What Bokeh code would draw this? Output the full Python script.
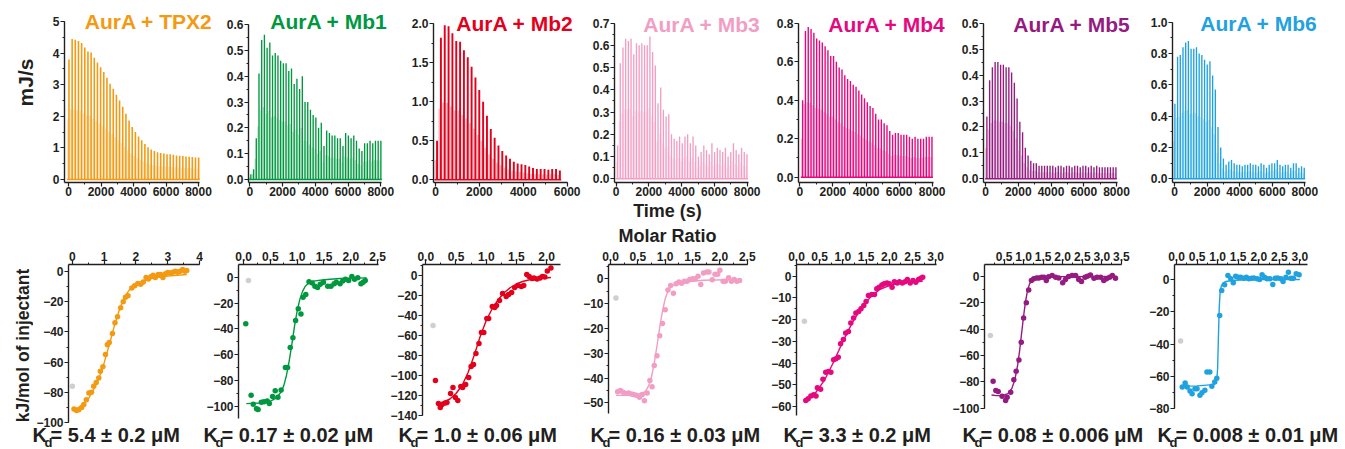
import numpy as np
from bokeh.plotting import figure
from bokeh.layouts import row, column
from bokeh.models import Label, Range1d, SingleIntervalTicker, FixedTicker, NumeralTickFormatter, GridBox
from bokeh.embed import file_html
from bokeh.resources import INLINE

FONT = "Liberation Sans"
INK = "#231f20"

# ---------------- data ----------------
names = ["AurA + TPX2", "AurA + Mb1", "AurA + Mb2", "AurA + Mb3", "AurA + Mb4", "AurA + Mb5", "AurA + Mb6"]
colors = ["#F39A12", "#00983F", "#E3001B", "#F29EC4", "#E5097F", "#951B81", "#1FA2DF"]
first_point_color = "#CFCFCF"

# raw ITC traces: peak heights (mJ/s) of successive injections
tpx2_peak = [3.8, 4.45, 4.42, 4.38, 4.32, 4.18, 4.05, 4.02, 3.85, 3.7, 3.55, 3.4, 3.22, 3.03, 2.87, 2.68,
             2.5, 2.3, 2.08, 1.87, 1.66, 1.5, 1.36, 1.24, 1.12, 1.02, 0.95, 0.9, 0.86, 0.84, 0.82, 0.8,
             0.8, 0.78, 0.76, 0.75, 0.74, 0.73, 0.72, 0.71, 0.7, 0.7]
mb1_peak = [0.02, 0.04, 0.16, 0.41, 0.54, 0.56, 0.51, 0.53, 0.48, 0.49, 0.48, 0.46, 0.45, 0.45, 0.42, 0.43,
            0.37, 0.39, 0.35, 0.40, 0.30, 0.30, 0.27, 0.25, 0.24, 0.20, 0.22, 0.13, 0.19, 0.18, 0.17, 0.17,
            0.16, 0.16, 0.13, 0.18, 0.17, 0.16, 0.17, 0.15, 0.12, 0.11, 0.14, 0.14, 0.15, 0.14, 0.15, 0.15, 0.15]
mb2_peak = [0.5, 1.82, 1.98, 1.97, 1.88, 1.78, 1.77, 1.66, 1.57, 1.45, 1.31, 1.15, 1.0, 0.82, 0.65, 0.54,
            0.44, 0.37, 0.31, 0.27, 0.23, 0.21, 0.2, 0.19, 0.17, 0.15, 0.14, 0.14, 0.14, 0.13, 0.14, 0.14, 0.12]
mb3_peak = [0.15, 0.52, 0.59, 0.63, 0.62, 0.63, 0.56, 0.61, 0.60, 0.61, 0.60, 0.60, 0.64, 0.57, 0.51, 0.34,
            0.41, 0.31, 0.28, 0.29, 0.20, 0.18, 0.17, 0.19, 0.16, 0.19, 0.20, 0.16, 0.19, 0.15, 0.10, 0.12,
            0.15, 0.13, 0.11, 0.16, 0.12, 0.14, 0.13, 0.12, 0.14, 0.10, 0.12, 0.16, 0.13, 0.11, 0.14, 0.12, 0.11]
mb4_peak = [0.40, 0.76, 0.78, 0.77, 0.75, 0.72, 0.71, 0.70, 0.68, 0.66, 0.63, 0.63, 0.60, 0.57, 0.56, 0.53,
            0.51, 0.50, 0.48, 0.47, 0.45, 0.43, 0.41, 0.39, 0.37, 0.36, 0.33, 0.30, 0.30, 0.28, 0.27, 0.24,
            0.22, 0.23, 0.23, 0.22, 0.22, 0.22, 0.21, 0.20, 0.21, 0.20, 0.20, 0.20, 0.21, 0.21, 0.21]
mb5_peak = [0.24, 0.38, 0.43, 0.45, 0.45, 0.44, 0.44, 0.43, 0.43, 0.41, 0.37, 0.31, 0.22, 0.18, 0.12, 0.09,
            0.07, 0.06, 0.06, 0.05, 0.05, 0.05, 0.05, 0.05, 0.05, 0.045, 0.05, 0.05, 0.045, 0.05, 0.05, 0.045,
            0.05, 0.05, 0.045, 0.05, 0.05, 0.045, 0.05, 0.045, 0.05, 0.045, 0.045, 0.045, 0.045, 0.045, 0.045, 0.045]
mb6_peak = [0.48, 0.78, 0.79, 0.84, 0.87, 0.88, 0.83, 0.83, 0.84, 0.80, 0.79, 0.76, 0.73, 0.75, 0.66, 0.57,
            0.33, 0.20, 0.13, 0.09, 0.11, 0.12, 0.10, 0.09, 0.09, 0.08, 0.09, 0.09, 0.10, 0.09, 0.09, 0.08,
            0.10, 0.09, 0.07, 0.09, 0.10, 0.10, 0.12, 0.09, 0.08, 0.09, 0.09, 0.07, 0.10, 0.10, 0.07, 0.08, 0.07]
peak_series = [tpx2_peak, mb1_peak, mb2_peak, mb3_peak, mb4_peak, mb5_peak, mb6_peak]
first_injection_time = [0, 40, 45, 60, 145, 60, 0]          # s
last_injection_time = [7980, 7980, 5640, 7960, 7960, 7940, 7940]  # s

# integrated isotherms: molar ratio vs kJ/mol of injectant
tpx2_ratio = [0.05, 0.13, 0.2, 0.29, 0.36, 0.44, 0.52, 0.6, 0.67, 0.75, 0.83, 0.88, 0.96, 1.04, 1.1, 1.16,
              1.26, 1.34, 1.42, 1.52, 1.6, 1.67, 1.75, 1.87, 1.96, 2.06, 2.15, 2.23, 2.32, 2.39, 2.47, 2.54,
              2.61, 2.7, 2.78, 2.85, 2.93, 3.0, 3.08, 3.16, 3.24, 3.31, 3.39, 3.47, 3.54, 3.6]
tpx2_kj = [-91, -92, -91.5, -90, -88, -85, -80.5, -80, -76, -73.5, -70.5, -66, -63, -55, -48.5, -47,
           -41, -34, -30, -24, -20, -17, -16, -11, -9.5, -8, -8.5, -7, -4, -5, -3.5, -2.5,
           -4, -2, -2, -4, -1.5, -0.7, -1, -0.5, 0.2, -0.5, 0.2, 1.3, 0.2, 0.7]
mb1_ratio = [0.04, 0.14, 0.18, 0.24, 0.27, 0.33, 0.38, 0.44, 0.48, 0.54, 0.59, 0.64, 0.7, 0.78, 0.82, 0.87,
             0.92, 0.97, 1.02, 1.07, 1.11, 1.16, 1.22, 1.28, 1.33, 1.38, 1.43, 1.49, 1.57, 1.63, 1.69, 1.73,
             1.8, 1.85, 1.9, 1.96, 2.02, 2.07, 2.13, 2.19, 2.23, 2.27]
mb1_kj = [-36, -91.5, -98.5, -102, -102.5, -97, -96.5, -96, -98, -92.5, -88, -93, -87.5, -70, -70, -54.5,
          -47, -33.5, -24.5, -28.5, -15.5, -13.5, -3.5, -4.5, -7, -8, -5.5, -4, -7, -7, -5, -4,
          -5, -3, -1.5, -2.5, 0.5, -1.5, -0.5, -5, -4, -2.5]
mb2_ratio = [0.16, 0.21, 0.24, 0.27, 0.32, 0.35, 0.41, 0.45, 0.49, 0.53, 0.58, 0.61, 0.66, 0.71, 0.75, 0.79,
             0.83, 0.88, 0.92, 0.96, 1.01, 1.04, 1.1, 1.14, 1.17, 1.22, 1.27, 1.33, 1.37, 1.42, 1.47, 1.52,
             1.58, 1.62, 1.67, 1.71, 1.76, 1.79, 1.84, 1.89, 1.93, 1.97, 2.01, 2.07]
mb2_kj = [-105, -128, -132, -129, -127.5, -127, -118, -112, -122, -125, -111, -112, -109, -102, -91, -89,
          -78, -68, -57, -57, -43, -43, -31, -32, -30, -25, -18, -21, -19, -17, -12, -10,
          -11, -10, 1, -1, -3, -2.5, -3.5, -2.5, -1, -1.5, 4.5, 7.5]
mb3_ratio = [0.13, 0.18, 0.23, 0.28, 0.33, 0.38, 0.42, 0.47, 0.53, 0.58, 0.62, 0.67, 0.72, 0.76, 0.8, 0.85,
             0.9, 0.95, 1.0, 1.05, 1.1, 1.15, 1.2, 1.25, 1.3, 1.35, 1.4, 1.45, 1.5, 1.55, 1.6, 1.65,
             1.7, 1.76, 1.8, 1.86, 1.91, 1.96, 2.0, 2.06, 2.1, 2.16, 2.21, 2.26, 2.31, 2.36]
mb3_kj = [-45.5, -45, -45.7, -46.3, -46, -46.5, -46.7, -47, -47.8, -46.7, -49.2, -46, -41, -43.5, -35, -31,
          -23, -18, -12.5, -4.5, -2.7, -5.8, -2, -1.3, -1.8, -1, -1, -0.3, 0, 0, 1, -2.3,
          2.3, 2.7, 2.7, -0.4, 1.8, 1.8, 3.4, -1, -1, 0.4, -1, -0.3, -1, -0.7]
mb4_ratio = [0.2, 0.25, 0.31, 0.37, 0.42, 0.45, 0.52, 0.57, 0.63, 0.69, 0.74, 0.8, 0.85, 0.9, 0.95, 1.01,
             1.06, 1.12, 1.17, 1.23, 1.28, 1.34, 1.39, 1.45, 1.5, 1.55, 1.62, 1.68, 1.73, 1.78, 1.84, 1.89,
             1.95, 2.0, 2.06, 2.11, 2.17, 2.22, 2.28, 2.34, 2.39, 2.45, 2.51, 2.57, 2.63, 2.68, 2.72]
mb4_kj = [-57.2, -56.4, -55.2, -54.6, -55.2, -51.4, -52.1, -47.5, -44.2, -43.9, -44.2, -38.5, -38, -37.3, -31.1, -29.1,
          -26.1, -25.5, -21.5, -19.2, -16.9, -16.3, -15, -13.5, -11.7, -8.9, -8.4, -8.4, -5.8, -5.1, -4, -3.5,
          -3.1, -3.5, -5.1, -2.5, -3.1, -2.5, -3.1, -2.5, -1.5, -3.1, -2, -2.8, -1.5, -0.9, -0.5]
mb5_ratio = [0.22, 0.29, 0.35, 0.45, 0.54, 0.58, 0.67, 0.75, 0.81, 0.88, 0.94, 1.0, 1.07, 1.13, 1.2, 1.26,
             1.33, 1.39, 1.46, 1.52, 1.58, 1.64, 1.73, 1.82, 1.9, 2.0, 2.07, 2.15, 2.24, 2.33, 2.41, 2.48,
             2.57, 2.63, 2.71, 2.8, 2.88, 2.97, 3.05, 3.12, 3.2, 3.27, 3.35]
mb5_kj = [-79.5, -86.6, -87.4, -90.9, -94.2, -91.7, -87.9, -78.5, -72, -63.4, -50, -31.6, -20.2, -10.4, -3.3, -2,
          -1.3, -1.3, -0.8, -0.8, -3.3, -0.5, 0.5, -0.8, -1.3, -5, -2.5, -0.3, 0.5, 0.5, -2.5, -4,
          -0.8, 0, 1, -1.5, -0.8, -0.8, -3.3, -2, -0.8, 0.5, -1.5]
mb6_ratio = [0.14, 0.21, 0.26, 0.33, 0.38, 0.45, 0.5, 0.57, 0.62, 0.69, 0.74, 0.81, 0.86, 0.93, 0.98, 1.05,
             1.1, 1.17, 1.25, 1.32, 1.38, 1.44, 1.5, 1.56, 1.64, 1.7, 1.76, 1.82, 1.88, 1.96, 2.02, 2.08,
             2.14, 2.2, 2.27, 2.34, 2.4, 2.46, 2.54, 2.59, 2.66, 2.72, 2.78, 2.84, 2.91, 2.98]
mb6_kj = [-66.5, -64, -66.5, -69, -70.6, -67.5, -67.5, -71.6, -70, -68.5, -57.2, -57.2, -66, -63.4, -61, -22.2,
          -6.8, -3.3, 2.5, 0.4, -2, 2, 1.4, 1.4, 0.8, 1.4, 0.4, 0.8, 1, 0.4, 0, 2.9,
          1.4, 0.4, 0.4, -3.1, 0.8, 1, 0.4, -1.2, 1.4, 4.5, 0.8, 0.8, 3.5, 2.9]
ratio_series = [tpx2_ratio, mb1_ratio, mb2_ratio, mb3_ratio, mb4_ratio, mb5_ratio, mb6_ratio]
kj_series = [tpx2_kj, mb1_kj, mb2_kj, mb3_kj, mb4_kj, mb5_kj, mb6_kj]

first_inj_ratio = [0.0, 0.09, 0.12, 0.10, 0.17, 0.15, 0.10]
first_inj_kj = [-76, -2.5, -50, -7.7, -20.7, -45, -38]

# fitted curves
tpx2_fit_x = [0.05, 0.3, 0.5, 0.7, 0.9, 1.0, 1.1, 1.2, 1.3, 1.4, 1.5, 1.6, 1.7, 1.8, 2.0, 2.2, 2.5, 3.0, 3.6]
tpx2_fit_y = [-91.5, -89, -84.5, -77, -67, -60.5, -53, -45.5, -37.5, -30.5, -24, -19, -15, -12, -8.5, -6.5, -4.5, -3, -2]
mb1_fit_x = [0.05, 0.3, 0.5, 0.6, 0.7, 0.75, 0.8, 0.85, 0.9, 0.95, 1.0, 1.05, 1.1, 1.15, 1.2, 1.3, 1.5, 1.8, 2.3]
mb1_fit_y = [-98, -97.5, -96, -94, -89, -84, -76, -65, -52, -38, -26, -17, -11, -7, -5, -3, -2, -1, -0.5]
mb2_fit_x = [0.18, 0.3, 0.4, 0.5, 0.6, 0.7, 0.8, 0.9, 1.0, 1.1, 1.2, 1.3, 1.4, 1.5, 1.6, 1.7, 1.8, 2.07]
mb2_fit_y = [-128, -126.5, -123.5, -118, -110, -97, -80, -61, -45, -33, -24, -17, -12, -8.5, -6, -4.5, -3.5, -2]
mb3_fit_x = [0.1, 0.3, 0.5, 0.6, 0.65, 0.7, 0.75, 0.8, 0.85, 0.9, 0.95, 1.0, 1.05, 1.1, 1.2, 1.4, 1.7, 2.37]
mb3_fit_y = [-47, -47, -46.5, -46, -45, -43, -39.5, -34, -27, -19.5, -13, -8, -5, -3.3, -2, -1.2, -0.6, -0.3]
mb4_fit_x = [0.2, 0.4, 0.6, 0.8, 1.0, 1.2, 1.4, 1.6, 1.8, 2.0, 2.2, 2.4, 2.72]
mb4_fit_y = [-57.5, -54, -48, -39.5, -30, -21.5, -14.5, -9.5, -6, -4.3, -3.3, -2.8, -2.3]
mb5_fit_x = [0.18, 0.3, 0.45, 0.6, 0.7, 0.78, 0.85, 0.9, 0.95, 1.0, 1.05, 1.1, 1.15, 1.2, 1.3, 1.5, 2.0, 3.38]
mb5_fit_y = [-90, -90.5, -90.5, -89, -85, -78, -67, -56, -43, -30, -19, -11, -6, -3.5, -1.5, -0.6, -0.3, -0.2]
mb6_fit_x = [0.12, 0.5, 0.9, 0.95, 0.98, 1.0, 1.02, 1.04, 1.06, 1.09, 1.13, 1.2, 1.4, 2.0, 3.0]
mb6_fit_y = [-66, -65.8, -65, -64, -62, -55, -35, -17, -8, -4, -2.3, -1.2, -0.5, -0.1, 0]
fit_x_series = [tpx2_fit_x, mb1_fit_x, mb2_fit_x, mb3_fit_x, mb4_fit_x, mb5_fit_x, mb6_fit_x]
fit_y_series = [tpx2_fit_y, mb1_fit_y, mb2_fit_y, mb3_fit_y, mb4_fit_y, mb5_fit_y, mb6_fit_y]

kd_text = ["= 5.4 ± 0.2 μM", "= 0.17 ± 0.02 μM", "= 1.0 ± 0.06 μM", "= 0.16 ± 0.03 μM",
           "= 3.3 ± 0.2 μM", "= 0.08 ± 0.006 μM", "= 0.008 ± 0.01 μM"]

# axis extents and ticks
top_y_max = [5, 0.6, 2.0, 0.7, 0.8, 0.6, 1.0]
top_x_interval = 2000
top_y_interval = [1, 0.1, 0.5, 0.1, 0.2, 0.1, 0.2]
top_y_format = [None, "0.0", "0.0", "0.0", "0.0", "0.0", "0.0"]
bot_y_min = [-100, -109.5, -140, -54.3, -64.1, -100, -80]
bot_x_interval = [1, 0.5, 0.5, 0.5, 0.5, 0.5, 0.5]
bot_y_interval = [20, 20, 20, 10, 10, 20, 20]

# ---------------- layout (pixel geometry of the reference) ----------------
W, H = 1345, 449
# top row: canvas 0..200, frames 4..182
TOP_H, TOP_FT, TOP_FB = 200, 4, 182
top_s = [40, 214, 395, 581, 764, 948, 1135, 1345]
top_fl = [64, 248, 433, 614, 798, 983, 1172]
top_axis_right = [199, 381, 567, 748, 933, 1117, 1305]
title_right = [212, 387, 573, 760, 945, 1130, 1317]
title_cy = [21, 21, 23, 24, 24, 24, 23]
# calibration: pixel of x=0, px per unit x, pixel of y=0, px per unit y
top_cal = [(68, 0.01625, 179, 31.6), (249.3, 0.016375, 179, 258.3), (435, 0.02195, 179.3, 78.0),
           (615.7, 0.016375, 178.3, 222.4), (799.3, 0.01655, 176.7, 192.5), (985, 0.016375, 178.3, 259.3),
           (1174, 0.01629, 178.3, 156.6)]

# middle strip 200..246 ; bottom row: canvas 246..449, frames 264..422
BOT_Y0, BOT_FT, BOT_FB = 246, 264, 422
bot_s = [33, 203, 387, 572, 757, 945, 1146, 1345]
bot_fl = [64, 233, 420, 608, 796, 984, 1172]
bot_fr = [199, 378, 560, 747, 936, 1121, 1307]
bot_cal = [(68, 32.75, 271, 1.51), (238.3, 55.5, 276.7, 1.29), (423.3, 61.35, 275, 1.0),
           (610, 54.7, 278.3, 2.48), (796, 46.4, 275.7, 2.172), (984, 39.1, 275.7, 1.32),
           (1174, 41.77, 279, 1.617)]
kd_left = [32, 203, 398, 590, 783, 962, 1157]


def style_axis(ax, standoff):
    ax.axis_line_color = INK
    ax.axis_line_width = 1.4
    ax.major_tick_line_color = INK
    ax.major_tick_line_width = 1.2
    ax.minor_tick_line_color = INK
    ax.minor_tick_line_width = 1
    ax.major_tick_out = 4
    ax.major_tick_in = 0
    ax.minor_tick_out = 2
    ax.minor_tick_in = 0
    ax.major_label_text_font = FONT
    ax.major_label_text_font_style = "bold"
    ax.major_label_text_font_size = "12px"
    ax.major_label_text_color = INK
    ax.major_label_standoff = standoff


def base_fig(width, height, mbl, mbr, mbt, mbb, xr, yr, xloc):
    p = figure(width=width, height=height, x_range=Range1d(*xr), y_range=Range1d(*yr),
               output_backend="svg", toolbar_location=None, x_axis_location=xloc, title=None,
               min_border_left=mbl, min_border_right=mbr, min_border_top=mbt, min_border_bottom=mbb)
    p.xgrid.visible = False
    p.ygrid.visible = False
    p.outline_line_color = None
    p.background_fill_color = "white"
    p.border_fill_color = "white"
    style_axis(p.xaxis[0], 0)
    style_axis(p.yaxis[0], 1)
    return p


def text_fig(width, height, x0, y0, mbt=0, mbb=0, transparent=False):
    # blank canvas whose data units are the reference pixels (y grows downwards)
    p = figure(width=width, height=height, x_range=Range1d(x0, x0 + width),
               y_range=Range1d(y0 + height - mbb, y0 + mbt),
               output_backend="svg", toolbar_location=None, title=None,
               x_axis_type=None, y_axis_type=None,
               min_border_left=0, min_border_right=0, min_border_top=mbt, min_border_bottom=mbb)
    p.xgrid.visible = False
    p.ygrid.visible = False
    p.outline_line_color = None
    if transparent:
        p.background_fill_alpha = 0
        p.border_fill_alpha = 0
    else:
        p.border_fill_color = "white"
    return p


def text_label(p, text, x, y, size, color=INK, align="left", angle=0):
    p.add_layout(Label(x=x, y=y, text=text, text_font=FONT, text_font_style="bold",
                       text_font_size=size, text_color=color, text_align=align,
                       text_baseline="middle", angle=angle))


# ---- top row ----
mj_fig = text_fig(top_s[0], TOP_H, 0, 0, TOP_FT, TOP_H - TOP_FB)
text_label(mj_fig, "mJ/s", 25, 82, "21px", align="center", angle=np.pi / 2)
top_figs = [mj_fig]
for i in range(7):
    s, s_next = top_s[i], top_s[i + 1]
    fl = top_fl[i]
    fr = min(title_right[i] + 3, s_next)
    x0px, xpx, y0px, ypx = top_cal[i]
    px2x = lambda px: (px - x0px) / xpx
    px2y = lambda py: (y0px - py) / ypx
    xr = (px2x(fl), px2x(fr))
    yr = (px2y(TOP_FB), px2y(TOP_FT))
    p = base_fig(s_next - s, TOP_H, fl - s, s_next - fr, TOP_FT, TOP_H - TOP_FB, xr, yr, "below")
    p.xaxis[0].bounds = (xr[0], px2x(top_axis_right[i]))
    p.yaxis[0].bounds = (yr[0], top_y_max[i] * (1 + 1e-6))
    p.xaxis[0].ticker = SingleIntervalTicker(interval=top_x_interval, num_minor_ticks=2)
    p.yaxis[0].ticker = SingleIntervalTicker(interval=top_y_interval[i], num_minor_ticks=2)
    if top_y_format[i]:
        p.yaxis[0].formatter = NumeralTickFormatter(format=top_y_format[i])
    h = np.array(peak_series[i])
    t = np.linspace(first_injection_time[i], last_injection_time[i], len(h))
    dt = t[1] - t[0]
    c = colors[i]
    p.vbar(x=t - 0.2 * dt, top=h * 0.5, bottom=0, width=0.6 * dt, fill_color=c, fill_alpha=0.25, line_color=None)
    p.vbar(x=t + 0.15 * dt, top=h, bottom=0, width=0.5 * dt, fill_color=c, line_color=None)
    p.segment(x0=[t[0] - 0.5 * dt], y0=[0], x1=[t[-1] + 0.5 * dt], y1=[0], line_color=c, line_width=1.5)
    text_label(p, names[i], px2x(title_right[i]), px2y(title_cy[i]), "21px", color=c, align="right")
    top_figs.append(p)

# ---- middle strip with the shared axis titles ----
mid = text_fig(W, BOT_Y0 - TOP_H, 0, TOP_H)
text_label(mid, "Time (s)", 667, 210.5, "18px", align="center")
text_label(mid, "Molar Ratio", 667, 235.5, "18px", align="center")

# ---- bottom row ----
BOT_H = H - BOT_Y0
kj_fig = text_fig(bot_s[0], BOT_H, 0, BOT_Y0, BOT_FT - BOT_Y0, H - BOT_FB)
text_label(kj_fig, "kJ/mol of injectant", 22, 345, "17.5px", align="center", angle=np.pi / 2)
bot_figs = [kj_fig]
for i in range(7):
    s, s_next = bot_s[i], bot_s[i + 1]
    fl, fr = bot_fl[i], bot_fr[i]
    x0px, xpx, y0px, ypx = bot_cal[i]
    px2x = lambda px: (px - x0px) / xpx
    px2y = lambda py: (y0px - py) / ypx
    xr = (px2x(fl), px2x(fr))
    yr = (px2y(BOT_FB), px2y(BOT_FT))
    p = base_fig(s_next - s, BOT_H, fl - s, s_next - fr, BOT_FT - BOT_Y0, H - BOT_FB, xr, yr, "above")
    p.yaxis[0].bounds = (bot_y_min[i] - 1e-6, yr[1])
    if i == 5:
        p.xaxis[0].ticker = FixedTicker(ticks=[0.5, 1.0, 1.5, 2.0, 2.5, 3.0, 3.5],
                                        minor_ticks=[0.25, 0.75, 1.25, 1.75, 2.25, 2.75, 3.25])
    else:
        p.xaxis[0].ticker = SingleIntervalTicker(interval=bot_x_interval[i], num_minor_ticks=2)
    if i > 0:
        p.xaxis[0].formatter = NumeralTickFormatter(format="0.0")
    p.yaxis[0].ticker = SingleIntervalTicker(interval=bot_y_interval[i], num_minor_ticks=2)
    c = colors[i]
    p.line(fit_x_series[i], fit_y_series[i], line_color=c, line_width=1.4)
    p.scatter(ratio_series[i], kj_series[i], size=5.5, fill_color=c, line_color=None)
    p.scatter([first_inj_ratio[i]], [first_inj_kj[i]], size=5.5, fill_color=first_point_color, line_color=None)
    bot_figs.append(p)

main = column(row(*top_figs), mid, row(*bot_figs))

# ---- transparent overlay carrying the Kd texts under the isotherms ----
overlay = text_fig(W, H, 0, 0, transparent=True)
for i in range(7):
    text_label(overlay, "K", kd_left[i], 434, "20px")
    text_label(overlay, "d", kd_left[i] + 12, 441.5, "13px")
    text_label(overlay, kd_text[i], kd_left[i] + 18, 434, "20px")

layout = GridBox(children=[(main, 0, 0), (overlay, 0, 0)])
open("out.html", "w").write(file_html(layout, INLINE))
